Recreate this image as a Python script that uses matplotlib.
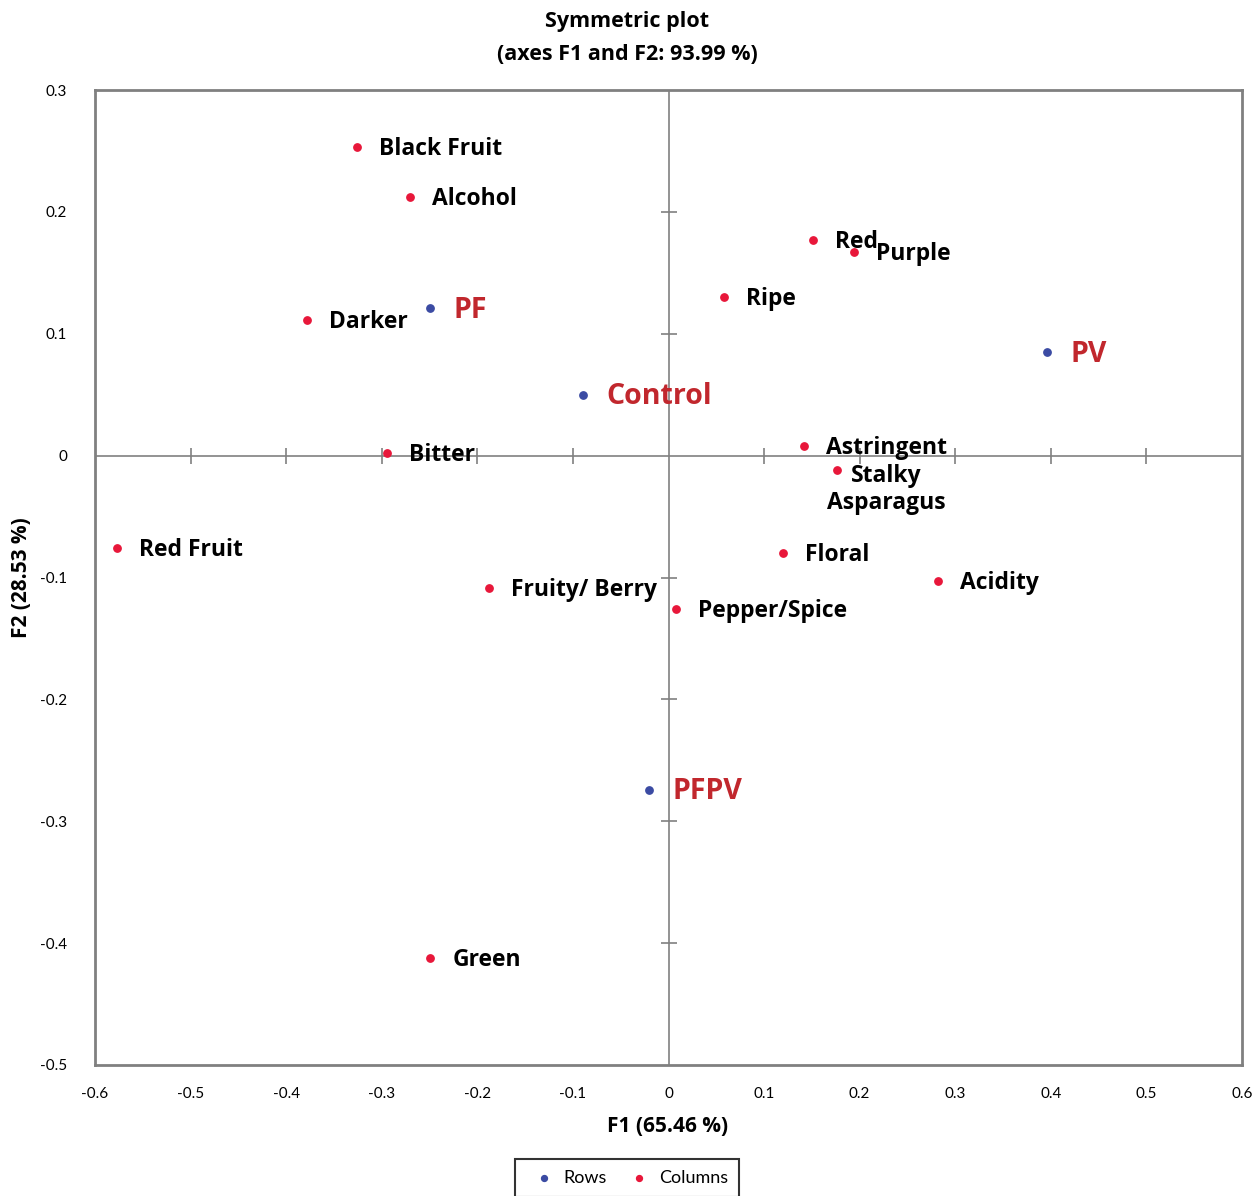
import matplotlib
matplotlib.use("Agg")
import matplotlib.pyplot as plt
from matplotlib.ticker import FuncFormatter
import numpy as np

plt.rcParams['font.family'] = ['Open Sans', 'DejaVu Sans']

# Rows (samples)
row_labels = ["PF", "Control", "PV", "PFPV"]
row_f1 = [-0.249, -0.089, 0.396, -0.020]
row_f2 = [0.121, 0.050, 0.085, -0.274]

# Columns (attributes)
col_labels = ["Black Fruit", "Alcohol", "Darker", "Bitter", "Red Fruit", "Fruity/ Berry",
              "Pepper/Spice", "Green", "Red", "Purple", "Ripe", "Astringent",
              "Stalky\nAsparagus", "Floral", "Acidity"]
col_f1 = [-0.326, -0.270, -0.378, -0.295, -0.577, -0.188,
          0.008, -0.249, 0.151, 0.194, 0.058, 0.142,
          0.176, 0.120, 0.282]
col_f2 = [0.253, 0.212, 0.111, 0.002, -0.076, -0.109,
          -0.126, -0.412, 0.177, 0.167, 0.130, 0.008,
          -0.012, -0.080, -0.103]

x_ticks = [-0.6, -0.5, -0.4, -0.3, -0.2, -0.1, 0, 0.1, 0.2, 0.3, 0.4, 0.5, 0.6]
y_ticks = [-0.5, -0.4, -0.3, -0.2, -0.1, 0, 0.1, 0.2, 0.3]

title1 = "Symmetric plot"
title2 = "(axes F1 and F2: 93.99 %)"
xlabel = "F1 (65.46 %)"
ylabel = "F2 (28.53 %)"

blue = "#3B4BA3"
red = "#E8173A"
dark_red = "#C1272D"

fig = plt.figure(figsize=(12.58, 11.96), dpi=100)
ax = fig.add_axes([95/1258, 1 - 1065/1196, (1242-95)/1258, (1065-90)/1196])
ax.set_xlim(-0.6, 0.6)
ax.set_ylim(-0.5, 0.3)

# zero lines with cross ticks
ax.axhline(0, color="#808080", lw=1.2, zorder=1)
ax.axvline(0, color="#808080", lw=1.2, zorder=1)
xt_inner = [t for t in x_ticks if abs(t) < 0.6 and t != 0]
yt_inner = [t for t in y_ticks if -0.5 < t < 0.3 and t != 0]
ax.plot(xt_inner, [0]*len(xt_inner), ls='none', marker='|', ms=12, mew=1.2, color="#808080", zorder=1)
ax.plot([0]*len(yt_inner), yt_inner, ls='none', marker='_', ms=12, mew=1.2, color="#808080", zorder=1)

ax.scatter(row_f1, row_f2, s=28, color=blue, zorder=3, label="Rows")
ax.scatter(col_f1, col_f2, s=28, color=red, zorder=3, label="Columns")

for lab, x, y in zip(row_labels, row_f1, row_f2):
    ax.annotate(lab, (x, y), xytext=(23, -2), textcoords='offset pixels',
                ha='left', va='center', fontsize=20.5, fontweight='bold', color=dark_red)

for lab, x, y in zip(col_labels, col_f1, col_f2):
    if "\n" in lab:
        ax.annotate(lab, (x, y), xytext=(50, -19), textcoords='offset pixels',
                    ha='center', va='center', multialignment='center',
                    fontsize=16.5, fontweight='bold', color='black', linespacing=1.15)
    else:
        ax.annotate(lab, (x, y), xytext=(22, -2), textcoords='offset pixels',
                    ha='left', va='center', fontsize=16.5, fontweight='bold', color='black')

ax.set_xticks(x_ticks)
ax.set_yticks(y_ticks)
fmt = FuncFormatter(lambda v, p: "0" if abs(v) < 1e-9 else f"{v:.1f}")
ax.xaxis.set_major_formatter(fmt)
ax.yaxis.set_major_formatter(fmt)
for lbl in ax.get_xticklabels() + ax.get_yticklabels():
    lbl.set_fontfamily(['Lato', 'DejaVu Sans'])
ax.tick_params(length=0, labelsize=11, pad=16)
ax.tick_params(axis='y', pad=20)

for s in ax.spines.values():
    s.set_color("#808080")
    s.set_linewidth(2)

fig.text(627/1258, 1 - 22/1196, title1, ha='center', va='center', fontsize=15.5, fontweight='bold')
fig.text(627/1258, 1 - 54/1196, title2, ha='center', va='center', fontsize=15.5, fontweight='bold')
fig.text(668/1258, 1 - 1127/1196, xlabel, ha='center', va='center', fontsize=15, fontweight='bold')
fig.text(22/1258, 1 - 578/1196, ylabel, ha='center', va='center', rotation=90, fontsize=15, fontweight='bold')

leg = fig.legend(loc='upper center', bbox_to_anchor=(627/1258, 1 - 1150/1196), ncol=2,
                 frameon=True, fancybox=False, edgecolor='black', fontsize=13,
                 handletextpad=0.1, columnspacing=0.8, markerscale=0.8, borderpad=0.6)
for t in leg.get_texts():
    t.set_fontfamily(['Lato', 'DejaVu Sans'])
leg.get_frame().set_linewidth(1.5)

fig.savefig("out.png", dpi=100)
